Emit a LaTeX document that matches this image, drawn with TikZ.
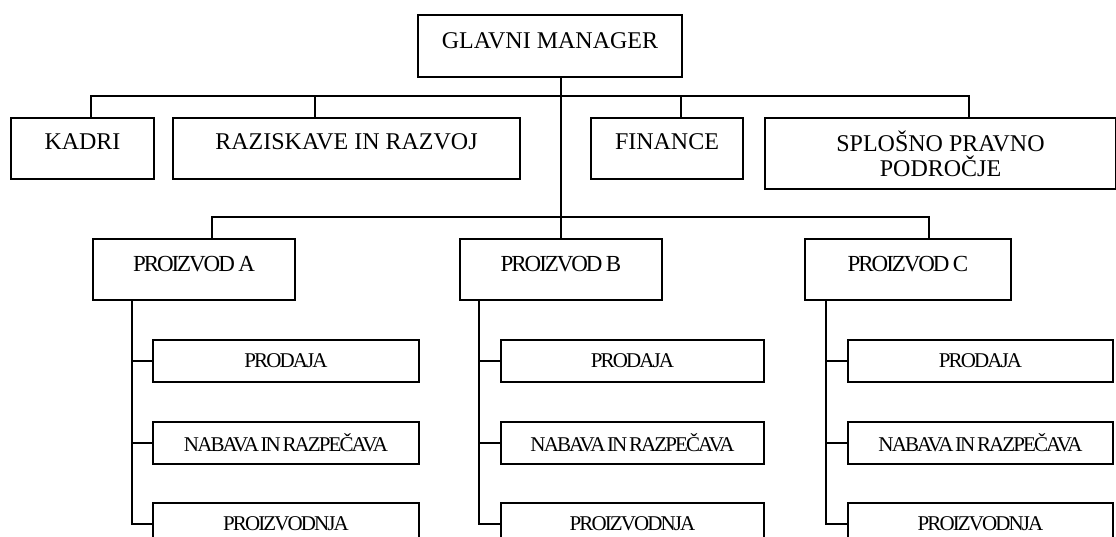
\documentclass[tikz,border=0pt]{standalone}
\usepackage{fontspec}
\setmainfont{Liberation Serif}
\newfontfamily\tightserif[LetterSpace=-9.0]{Liberation Serif}

% type sizes for the three levels of the chart
\newcommand\unitfont{\fontsize{24}{25}\selectfont}
\newcommand\prodfont{\tightserif\fontsize{23}{25}\selectfont\spaceskip=0.15em\relax}
\newcommand\taskfont{\tightserif\fontsize{21}{23}\selectfont\spaceskip=0.08em\relax}

\tikzset{
  every node/.style={inner sep=0pt, anchor=north west},
  org/.style={draw, line width=2pt},
  unit/.style={org, font=\unitfont, text height=31pt, text depth=30pt},
  chief/.style={unit, text height=33pt, text depth=29pt},
  product/.style={org, font=\prodfont, text height=32pt, text depth=29pt},
  task/.style={org, font=\taskfont, minimum height=42pt},
  link/.style={line width=2pt}
}

\begin{document}
\begin{tikzpicture}[x=1pt, y=-1pt]
  \useasboundingbox (0,0) rectangle (1116,536);
  \fill[white] (0,0) rectangle (1116,536);
  \clip (0,0) rectangle (1116,536);

  % top management
  \node[chief, minimum width=264pt] (gm) at (417,14) {GLAVNI MANAGER};

  % staff departments
  \node[unit, minimum width=143pt] (kadri) at (10,117) {KADRI};
  \node[unit, minimum width=347pt] (raz)   at (172,117) {RAZISKAVE IN RAZVOJ};
  \node[unit, minimum width=152pt] (fin)   at (590,117) {FINANCE};
  \node[org, font=\unitfont, align=center,
        minimum width=351pt, minimum height=71pt] (spl) at (764,117)
        {SPLOŠNO PRAVNO\\PODROČJE};

  % product divisions
  \node[product, minimum width=202pt] (pA) at (92,238)  {PROIZVOD A};
  \node[product, minimum width=202pt] (pB) at (459,238) {PROIZVOD B};
  \node[product, minimum width=206pt] (pC) at (804,238) {PROIZVOD C};

  % functions inside each division
  \foreach \p/\x/\w in {a/152/266, b/500/263, c/847/265} {
    \node[task, minimum width=\w pt] (\p1) at (\x,339) {PRODAJA};
    \node[task, minimum width=\w pt] (\p2) at (\x,421) {NABAVA IN RAZPEČAVA};
    \node[task, minimum width=\w pt] (\p3) at (\x,502) {PROIZVODNJA};
  }

  % staff bus
  \draw[link] ([xshift=81pt]kadri.north west) -- ++(0,-21) -| ([xshift=205pt]spl.north west);
  \draw[link] ([xshift=143pt]raz.north west) -- ++(0,-21);
  \draw[link] ([xshift=91pt]fin.north west) -- ++(0,-21);

  % main trunk and division bus
  \draw[link] (gm.south -| pB.north) -- (pB.north);
  \draw[link] ([xshift=120pt]pA.north west) -- ++(0,-21) -| ([xshift=125pt]pC.north west);

  % division spines
  \coordinate (sa) at ([xshift=40pt]pA.south west);
  \coordinate (sb) at ([xshift=20pt]pB.south west);
  \coordinate (sc) at ([xshift=22pt]pC.south west);
  \foreach \p in {a,b,c} {
    \draw[link] (s\p) |- (\p3.west);
    \draw[link] (\p1.west) -- (\p1.west -| s\p);
    \draw[link] (\p2.west) -- (\p2.west -| s\p);
  }
\end{tikzpicture}
\end{document}
